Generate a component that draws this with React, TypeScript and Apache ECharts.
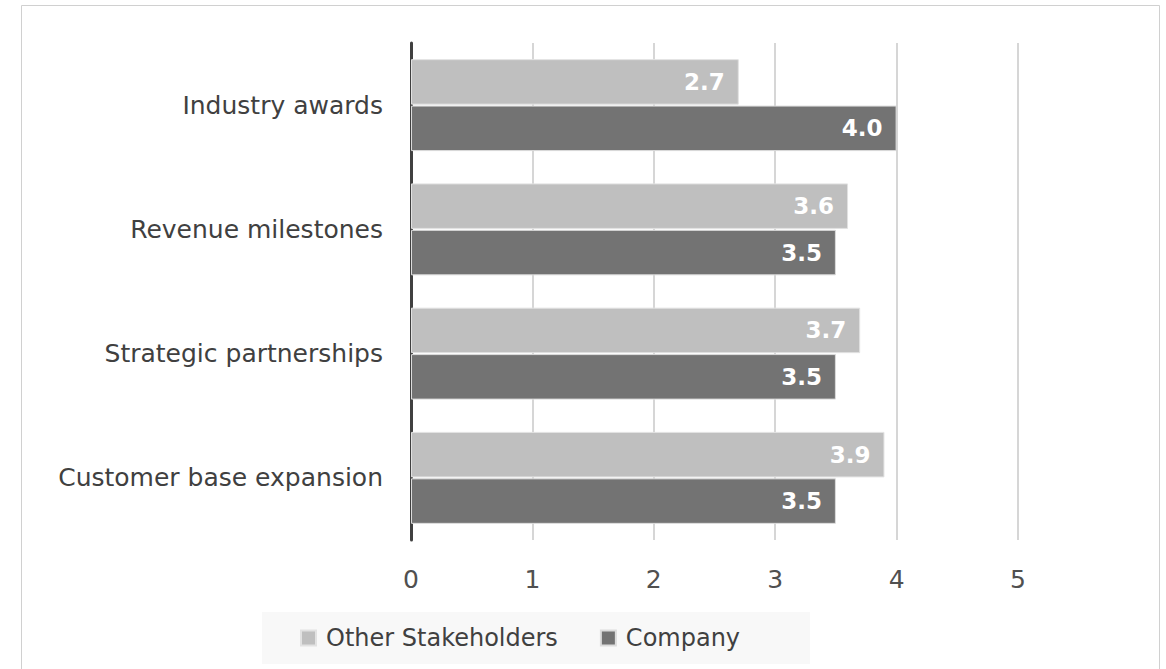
import React, { useEffect, useRef } from "react";
import * as echarts from "echarts";

const categories = ["Customer base expansion", "Strategic partnerships", "Revenue milestones", "Industry awards"];
const otherStakeholders = [3.9, 3.7, 3.6, 2.7];
const company = [3.5, 3.5, 3.5, 4.0];
const seriesNames = ["Other Stakeholders", "Company"];

const FONT = "'DejaVu Sans', sans-serif";

export default function App() {
  const ref = useRef<HTMLDivElement>(null);
  useEffect(() => {
    const chart = echarts.init(ref.current!, null, { renderer: "svg" });
    const label = {
      show: true,
      position: "insideRight",
      distance: 14,
      color: "#ffffff",
      fontWeight: "bold",
      fontSize: 23,
      fontFamily: FONT,
      formatter: (p: any) => Number(p.value).toFixed(1),
    };
    chart.setOption({
      animation: false,
      textStyle: { fontFamily: FONT },
      graphic: [
        {
          type: "rect",
          shape: { x: 21.5, y: 5.5, width: 1138, height: 700 },
          style: { fill: "none", stroke: "#d0d0d0", lineWidth: 1 },
          silent: true,
        },
      ],
      legend: {
        data: seriesNames,
        left: 262,
        top: 612,
        backgroundColor: "#f8f8f8",
        padding: [14, 70, 14, 38],
        icon: "rect",
        itemWidth: 15,
        itemHeight: 15,
        itemGap: 42,
        textStyle: { fontSize: 24, color: "#404040", fontFamily: FONT, padding: [0, 0, 0, 5] },
      },
      grid: { left: 411, right: 148, top: 43, bottom: 129, containLabel: false },
      xAxis: {
        type: "value",
        min: 0,
        max: 5,
        interval: 1,
        axisLine: { show: false },
        axisTick: { show: false },
        splitLine: { show: true, lineStyle: { color: "#c8c8c8", width: 1.5 } },
        axisLabel: { fontSize: 25, color: "#505050", margin: 27, fontFamily: FONT },
      },
      yAxis: {
        type: "category",
        data: categories,
        axisLine: { show: true, lineStyle: { color: "#404040", width: 3 } },
        axisTick: { show: false },
        axisLabel: { fontSize: 25, color: "#404040", margin: 28, fontFamily: FONT },
      },
      series: [
        {
          name: seriesNames[0],
          type: "bar",
          data: otherStakeholders,
          barCategoryGap: "26%",
          barGap: "2%",
          itemStyle: { color: "#bfbfbf", borderColor: "#e2e2e2", borderWidth: 1 },
          label,
        },
        {
          name: seriesNames[1],
          type: "bar",
          data: company,
          itemStyle: { color: "#737373", borderColor: "#dcdcdc", borderWidth: 1 },
          label,
        },
      ],
    });
    return () => chart.dispose();
  }, []);
  return (
    <div
      ref={ref}
      style={{ position: "fixed", left: 0, top: 0, width: 1166, height: 669, background: "#fff" }}
    />
  );
}
